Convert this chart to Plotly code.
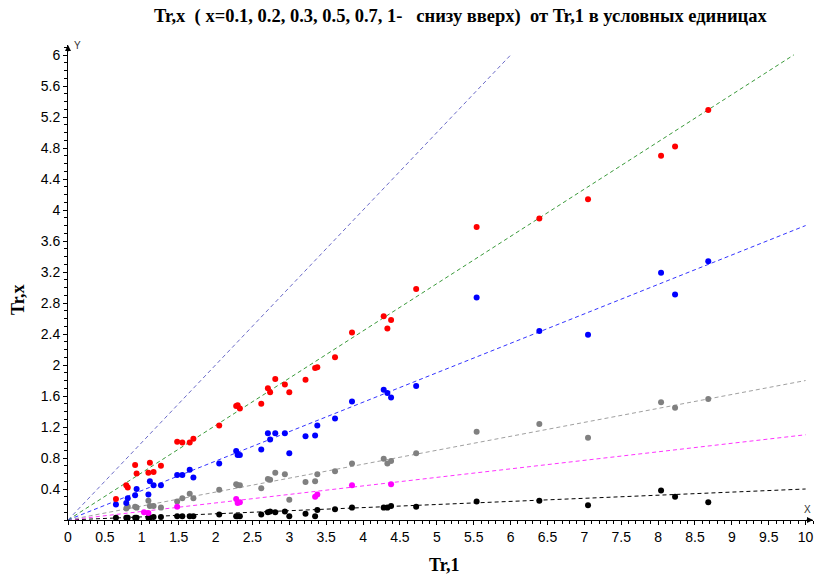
import plotly.graph_objects as go

# Shared Tr,1 values (x) for the red/blue/gray/black series
x_main = [0.65, 0.79, 0.81, 0.91, 0.93, 1.09, 1.11, 1.16, 1.26, 1.48, 1.55, 1.65, 1.70,
          2.05, 2.28, 2.30, 2.33, 2.62, 2.71, 2.74, 2.81, 2.94, 3.00, 3.22, 3.35, 3.38,
          3.62, 3.85, 4.28, 4.33, 4.38, 4.72, 5.54, 6.39, 7.05, 8.04, 8.23, 8.68]

y_red = [0.27, 0.45, 0.42, 0.71, 0.60, 0.61, 0.74, 0.62, 0.70, 1.01, 1.00, 1.00, 1.05,
         1.22, 1.47, 1.48, 1.44, 1.50, 1.70, 1.65, 1.82, 1.75, 1.65, 1.81, 1.96, 1.97,
         2.10, 2.42, 2.63, 2.47, 2.58, 2.98, 3.78, 3.89, 4.14, 4.70, 4.82, 5.29]

y_blue = [0.20, 0.22, 0.28, 0.32, 0.40, 0.33, 0.50, 0.45, 0.45, 0.58, 0.58, 0.65, 0.55,
          0.73, 0.89, 0.84, 0.84, 0.91, 1.12, 1.04, 1.12, 1.12, 0.86, 1.08, 1.09, 1.22,
          1.31, 1.53, 1.68, 1.64, 1.58, 1.73, 2.87, 2.44, 2.39, 3.19, 2.91, 3.34]

y_gray = [None, 0.15, 0.17, 0.17, 0.16, 0.25, 0.18, 0.18, 0.16, 0.24, 0.28, 0.34, 0.28,
          0.39, 0.46, 0.45, 0.45, 0.41, 0.53, 0.52, 0.61, 0.59, 0.26, 0.49, 0.50, 0.59,
          0.63, 0.73, 0.79, 0.73, 0.76, 0.86, 1.14, 1.24, 1.06, 1.52, 1.45, 1.56]

y_black = [0.03, 0.03, 0.03, 0.03, 0.03, 0.03, 0.03, 0.04, 0.04, 0.05, 0.05, 0.05, 0.05,
           0.07, 0.05, 0.05, 0.05, 0.07, 0.10, 0.11, 0.10, 0.11, 0.05, 0.08, 0.05, 0.13,
           0.14, 0.16, 0.16, 0.16, 0.18, 0.17, 0.24, 0.25, 0.19, 0.38, 0.30, 0.23]

x_magenta = [1.03, 1.09, 1.48, 2.28, 2.30, 2.33, 3.35, 3.38, 3.85, 4.38]
y_magenta = [0.10, 0.09, 0.17, 0.27, 0.22, 0.23, 0.30, 0.33, 0.45, 0.46]

# Reference lines through the origin (slope, end x), bottom to top
line_slopes = [0.04, 0.11, 0.18, 0.38, 0.61, 1.0]
line_x_end = [10.0, 10.0, 10.0, 10.0, 9.84, 6.0]
line_colors = ["#000000", "#ff33ff", "#a0a0a0", "#3333ff", "#3a9a3a", "#6a6ac8"]

x_ticks = [0, 0.5, 1, 1.5, 2, 2.5, 3, 3.5, 4, 4.5, 5, 5.5, 6, 6.5, 7, 7.5, 8, 8.5, 9, 9.5, 10]
y_ticks = [0.4, 0.8, 1.2, 1.6, 2, 2.4, 2.8, 3.2, 3.6, 4, 4.4, 4.8, 5.2, 5.6, 6]

fig = go.Figure()

for s, xe, c in zip(line_slopes, line_x_end, line_colors):
    fig.add_trace(go.Scatter(x=[0, xe], y=[0, s * xe], mode="lines",
                             line=dict(color=c, width=1, dash="4px,3px"),
                             hoverinfo="skip", showlegend=False))

msize = 6
for ys, c in [(y_black, "#000000"), (y_gray, "#808080"), (y_blue, "#0000ff"), (y_red, "#ff0000")]:
    fig.add_trace(go.Scatter(x=x_main, y=ys, mode="markers",
                             marker=dict(color=c, size=msize), showlegend=False))
fig.add_trace(go.Scatter(x=x_magenta, y=y_magenta, mode="markers",
                         marker=dict(color="#ff00ff", size=msize), showlegend=False))

tickfont = dict(family="Liberation Sans, Arial, sans-serif", size=14, color="black")
serif_family = "Liberation Serif, Times New Roman, serif"
serif_bold = dict(family=serif_family, size=18, color="black")

fig.update_xaxes(range=[0, 10.1], tickvals=x_ticks, ticktext=[str(v) for v in x_ticks],
                 showgrid=False, zeroline=False, showline=True, linecolor="black", linewidth=1,
                 ticks="outside", ticklen=4, tickcolor="black", tickfont=tickfont,
                 minor=dict(dtick=0.1, ticks="outside", ticklen=3, tickcolor="black"))
fig.update_yaxes(range=[0, 6.13], tickvals=y_ticks, ticktext=[f"{v:g}" for v in y_ticks],
                 showgrid=False, zeroline=False, showline=True, linecolor="black", linewidth=1,
                 ticks="outside", ticklen=4, tickcolor="black", tickfont=tickfont,
                 minor=dict(dtick=0.1, ticks="outside", ticklen=3, tickcolor="black"))

title = ("<b>Tr,x\u00a0\u00a0( x=0.1, 0.2, 0.3, 0.5, 0.7, 1-\u00a0\u00a0\u00a0снизу вверх)"
         "\u00a0\u00a0от Tr,1 в условных единицах</b>")

fig.update_layout(
    width=819, height=579,
    margin=dict(l=68, r=6, t=45, b=59),
    plot_bgcolor="white", paper_bgcolor="white",
    annotations=[
        dict(text=title, x=(461 - 68) / 745, y=1.0 + (45 - 17) / 475, xref="paper", yref="paper",
             showarrow=False, font=dict(family=serif_family, size=18.5, color="black"),
             xanchor="center", yanchor="middle"),
        dict(text="<b>Tr,x</b>", x=(18 - 68) / 745, y=(520 - 300) / 475, xref="paper", yref="paper",
             showarrow=False, textangle=-90, font=serif_bold, xanchor="center", yanchor="middle"),
        dict(text="<b>Tr,1</b>", x=(444 - 68) / 745, y=(520 - 565) / 475, xref="paper", yref="paper",
             showarrow=False, font=serif_bold, xanchor="center", yanchor="middle"),
        dict(text="X", x=10.1, y=0.13, xref="x", yref="y", showarrow=False,
             font=dict(family="Liberation Sans, Arial", size=10, color="#333"), xanchor="right"),
        dict(text="Y", x=0.06, y=6.13, xref="x", yref="y", showarrow=False,
             font=dict(family="Liberation Sans, Arial", size=10, color="#333"), xanchor="left",
             yanchor="middle"),
        dict(text="", x=10.1, y=0, xref="x", yref="y", ax=-8, ay=0, showarrow=True,
             arrowhead=2, arrowsize=1.2, arrowwidth=1, arrowcolor="black"),
        dict(text="", x=0, y=6.13, xref="x", yref="y", ax=0, ay=8, showarrow=True,
             arrowhead=2, arrowsize=1.2, arrowwidth=1, arrowcolor="black"),
    ],
)

fig.write_html("out.html")
